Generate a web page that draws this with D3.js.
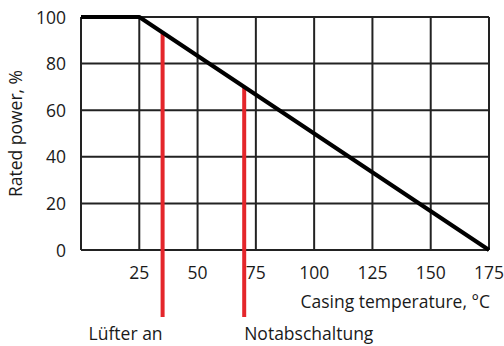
<!DOCTYPE html>
<html>
<head>
  <meta charset="utf-8">
  <title>Derating curve</title>
  <script src="https://d3js.org/d3.v7.min.js"></script>
  <style>
    body { margin: 0; background: #fff; }
    text { font-family: "Open Sans", "Noto Sans", sans-serif; fill: #1a1a1a; }
  </style>
</head>
<body>
<div id="chart"></div>
<script>
  // data
  var xTicks = [25, 50, 75, 100, 125, 150, 175];
  var yTicks = [0, 20, 40, 60, 80, 100];
  var curveTemp  = [0, 25, 175];
  var curvePower = [100, 100, 0];
  var markerTemp  = [35, 70];
  var markerNames = ["Lüfter an", "Notabschaltung"];

  var W = 504, H = 346;
  var margin = {top: 17, right: 15, bottom: 96, left: 81},
      width  = W - margin.left - margin.right,
      height = H - margin.top - margin.bottom;
  var fs = 17.5;

  var svg = d3.select("#chart").append("svg")
      .attr("width", W)
      .attr("height", H);

  var x = d3.scaleLinear().domain([0, 175]).range([0, width]);
  var y = d3.scaleLinear().domain([0, 100]).range([height, 0]);

  var g = svg.append("g")
      .attr("transform", "translate(" + margin.left + "," + margin.top + ")");

  // grid
  g.selectAll(".vgrid")
      .data([0].concat(xTicks))
      .enter().append("line")
      .attr("x1", function(d){ return x(d); })
      .attr("x2", function(d){ return x(d); })
      .attr("y1", 0).attr("y2", height)
      .attr("stroke", "#222").attr("stroke-width", 2);

  g.selectAll(".hgrid")
      .data(yTicks)
      .enter().append("line")
      .attr("x1", 0).attr("x2", width)
      .attr("y1", function(d){ return y(d); })
      .attr("y2", function(d){ return y(d); })
      .attr("stroke", "#222").attr("stroke-width", 2);

  // tick labels
  g.selectAll(".ylab")
      .data(yTicks)
      .enter().append("text")
      .attr("x", -15)
      .attr("y", function(d){ return y(d); })
      .attr("dy", "0.38em")
      .attr("text-anchor", "end")
      .attr("font-size", fs)
      .text(function(d){ return d; });

  g.selectAll(".xlab")
      .data(xTicks)
      .enter().append("text")
      .attr("x", function(d){ return x(d); })
      .attr("y", height + 29)
      .attr("text-anchor", "middle")
      .attr("font-size", fs)
      .text(function(d){ return d; });

  // red markers
  var curveAt = function(t){
    return t <= 25 ? 100 : 100 - (t - 25) / 150 * 100;
  };
  g.selectAll(".marker")
      .data(markerTemp)
      .enter().append("line")
      .attr("x1", function(d){ return x(d); })
      .attr("x2", function(d){ return x(d); })
      .attr("y1", function(d){ return y(curveAt(d)); })
      .attr("y2", height + 67)
      .attr("stroke", "#e4262b").attr("stroke-width", 4);

  g.selectAll(".mlab")
      .data(markerTemp)
      .enter().append("text")
      .attr("x", function(d){ return x(d); })
      .attr("y", height + 90)
      .attr("text-anchor", function(d, i){ return i === 0 ? "end" : "start"; })
      .attr("font-size", fs)
      .text(function(d, i){ return markerNames[i]; });

  // curve
  var line = d3.line()
      .x(function(d){ return x(d[0]); })
      .y(function(d){ return y(d[1]); });
  g.append("path")
      .datum(d3.zip(curveTemp, curvePower))
      .attr("d", line)
      .attr("fill", "none")
      .attr("stroke", "#000")
      .attr("stroke-width", 4)
      .attr("stroke-linejoin", "round");

  // axis titles
  g.append("text")
      .attr("x", width + 1)
      .attr("y", height + 58)
      .attr("text-anchor", "end")
      .attr("font-size", fs)
      .text("Casing temperature, °C");

  svg.append("text")
      .attr("transform", "translate(22," + (margin.top + height / 2) + ") rotate(-90)")
      .attr("text-anchor", "middle")
      .attr("font-size", fs)
      .text("Rated power, %");
</script>
</body>
</html>
